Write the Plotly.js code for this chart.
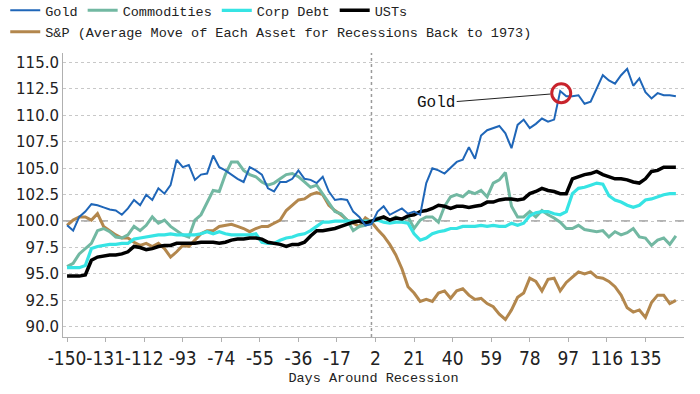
<!DOCTYPE html>
<html>
<head>
<meta charset="utf-8">
<script src="https://cdn.plot.ly/plotly-3.0.1.min.js"></script>
<style>html,body{margin:0;padding:0;background:#fff;}#chart{width:700px;height:394px;}</style>
</head>
<body>
<div id="chart"></div>
<script>
// Days around recession (x axis)
const days = [-150,-147,-144,-141,-138,-135,-132,-129,-126,-123,-120,-117,-114,-111,-108,-105,-102,-99,-96,-93,-90,-87,-84,-81,-78,-75,-72,
  -69,-66,-63,-60,-57,-54,-51,-48,-45,-42,-39,-36,-33,-30,-27,-24,-21,-18,-15,-12,-9,-6,-3,0,
  3,6,9,12,15,18,21,24,27,30,33,36,39,42,45,48,51,54,57,60,63,66,69,72,75,78,81,
  84,87,90,93,96,99,102,105,108,111,114,117,120,123,126,129,132,135,138,141,144,147,150];

const gold = [99.6,99.1,100.4,100.9,101.6,101.5,101.3,101.1,101.0,100.6,101.2,102.0,101.5,102.5,102.0,103.1,102.6,103.4,105.8,105.1,105.3,103.9,104.4,104.5,106.2,105.1,104.8,
  104.4,104.0,103.7,105.1,104.8,104.4,103.1,102.8,103.7,103.7,104.0,104.8,104.0,103.9,103.6,104.2,102.8,102.0,102.1,102.0,100.9,100.4,99.6,99.7,
  100.9,101.4,100.6,100.9,101.2,100.7,100.9,100.6,103.6,105.0,104.8,104.5,105.1,105.6,105.8,107.0,105.9,108.1,108.6,108.8,109.0,108.3,106.9,109.1,109.6,108.8,109.2,
  109.7,109.4,109.6,112.3,111.8,111.8,111.9,111.1,111.3,112.6,113.8,113.3,113.0,113.8,114.4,112.8,113.5,112.2,111.6,112.1,111.9,111.9,111.8];

const commodities = [95.7,96.0,96.9,97.4,97.9,99.1,99.3,99.0,98.5,98.4,98.7,99.5,99.1,99.6,100.4,99.8,100.1,99.5,99.1,98.7,98.5,100.1,100.6,101.7,102.9,102.8,104.4,
  105.6,105.6,104.8,104.4,104.2,103.7,103.4,103.6,104.0,104.4,104.5,104.2,103.7,103.2,103.4,102.6,101.7,100.9,100.7,100.1,99.1,99.5,99.6,99.9,
  100.3,100.3,100.1,100.4,100.1,100.4,99.3,100.1,100.4,100.4,99.9,101.4,102.3,102.5,102.3,102.8,102.6,102.9,102.3,103.6,103.9,104.6,101.4,100.4,100.4,100.9,100.4,
  101.0,100.6,100.3,99.9,99.3,99.3,99.6,99.2,99.1,99.0,99.1,98.5,99.0,98.7,98.9,99.3,98.5,98.4,97.7,98.2,98.4,97.8,98.6];

const corpDebt = [95.6,95.6,95.6,95.8,97.4,97.6,97.7,97.8,97.8,97.9,97.9,98.3,98.4,98.5,98.6,98.7,98.7,98.8,98.7,98.7,98.7,98.7,98.8,99.0,98.8,99.0,98.8,
  98.7,98.7,98.7,98.7,98.8,98.0,97.9,97.9,98.2,98.4,98.5,98.7,98.8,99.1,99.5,99.9,99.9,100.0,100.0,100.0,100.0,100.0,100.0,100.0,
  100.1,99.9,99.8,99.9,99.9,99.8,98.8,98.2,98.4,98.8,99.0,99.1,99.3,99.3,99.5,99.5,99.5,99.6,99.5,99.6,99.5,99.5,99.8,99.6,99.8,100.5,100.8,
  100.9,100.9,100.7,100.6,100.9,102.6,103.1,103.2,103.4,103.6,103.5,102.4,102.0,101.8,101.5,101.3,101.5,102.0,102.1,102.3,102.5,102.6,102.6];

const usts = [94.8,94.8,94.8,94.9,96.3,96.6,96.7,96.8,96.8,96.9,97.1,97.6,97.5,97.3,97.4,97.6,97.7,97.7,97.9,97.9,97.9,97.9,98.0,98.0,98.0,97.9,98.0,
  98.2,98.3,98.3,98.4,98.4,98.3,98.0,97.9,97.8,97.6,97.8,97.8,98.0,98.6,99.1,99.1,99.2,99.3,99.5,99.7,99.9,100.0,99.8,100.0,
  100.2,100.4,100.1,100.3,100.2,100.5,100.6,100.9,101.0,101.2,101.5,101.4,101.2,101.4,101.4,101.3,101.4,101.5,101.8,101.8,102.0,102.1,102.1,102.0,102.1,102.6,102.8,
  103.1,102.9,102.8,102.6,102.6,104.0,104.2,104.4,104.5,104.7,104.4,104.2,104.0,104.0,103.9,103.7,103.6,104.0,104.7,104.8,105.1,105.1,105.1];

const sp = [99.6,100.1,100.4,100.4,100.1,100.7,99.5,99.1,98.7,98.4,98.4,98.0,97.7,97.9,97.6,97.9,97.4,96.6,97.1,97.7,97.6,98.2,98.8,99.1,99.1,99.5,99.6,
  99.7,99.5,99.3,99.0,99.3,99.5,99.5,99.8,100.1,101.0,101.5,102.0,102.1,102.5,102.7,102.5,101.5,101.0,100.6,100.1,99.8,99.5,100.3,99.9,
  99.2,98.6,97.8,96.8,95.5,93.8,93.2,92.4,92.6,92.4,93.2,93.4,92.7,93.4,93.6,93.0,92.6,92.7,92.2,91.9,91.2,90.7,91.6,92.8,93.2,94.6,94.3,
  93.4,94.5,94.6,93.4,94.2,94.7,95.2,95.0,95.2,94.7,94.6,94.3,93.8,93.0,91.8,91.4,91.6,90.9,92.3,93.0,93.0,92.2,92.5];

const xTicks = [-150,-131,-112,-93,-74,-55,-36,-17,2,21,40,59,78,97,116,135];
const seriesNames = ["Gold","Commodities","Corp Debt","USTs","S&P (Average Move of Each Asset for Recessions Back to 1973)"];
const goldCallout = {day: 93.5, value: 112.1, label: "Gold"};

const traces = [
  {x: days, y: sp, name: seriesNames[4], legend: "legend2", line: {color: "#b3874d", width: 3}},
  {x: days, y: commodities, name: seriesNames[1], legendrank: 2, line: {color: "#72b8a2", width: 3}},
  {x: days, y: corpDebt, name: seriesNames[2], legendrank: 3, line: {color: "#36e4e4", width: 3.2}},
  {x: days, y: usts, name: seriesNames[3], legendrank: 4, line: {color: "#000000", width: 3.5}},
  {x: days, y: gold, name: seriesNames[0], legendrank: 1, line: {color: "#1f66b8", width: 2}}
].map(t => Object.assign({type: "scatter", mode: "lines", hoverinfo: "skip"}, t));

const monoFont = "Liberation Mono, DejaVu Sans Mono, monospace";
const legendCommon = {
  orientation: "h", xanchor: "left", yanchor: "top",
  font: {family: monoFont, size: 13.5, color: "#222"},
  itemwidth: 30, tracegroupgap: 0, bgcolor: "rgba(0,0,0,0)", traceorder: "normal"
};

const layout = {
  width: 700, height: 394,
  margin: {l: 63, r: 16, t: 53, b: 57, autoexpand: false},
  paper_bgcolor: "#fff", plot_bgcolor: "#fff",
  showlegend: true,
  legend: Object.assign({x: -0.093, y: 1.204}, legendCommon),
  legend2: Object.assign({x: -0.093, y: 1.129}, legendCommon),
  xaxis: {
    range: [-152, 154], tickvals: xTicks, ticktext: xTicks.map(String), tickangle: 0,
    showgrid: false, zeroline: false,
    showline: true, linecolor: "#b0b0b0", linewidth: 1,
    ticks: "outside", ticklen: 4, tickcolor: "#b0b0b0",
    tickfont: {family: "Liberation Sans Narrow, DejaVu Sans Condensed, sans-serif", size: 19, color: "#222"},
    title: {text: "Days Around Recession", font: {family: monoFont, size: 13.5, color: "#222"}, standoff: 4},
    automargin: false
  },
  yaxis: {
    range: [89.04, 115.9], tick0: 90, dtick: 2.5, tickformat: ".1f",
    showgrid: true, gridcolor: "#c8c8c8", griddash: "dot", gridwidth: 1,
    zeroline: false, showline: true, linecolor: "#b0b0b0", linewidth: 1,
    ticks: "", tickfont: {family: "DejaVu Sans, sans-serif", size: 15, color: "#222"},
    automargin: false
  },
  shapes: [
    {type: "line", xref: "paper", x0: 0, x1: 1, yref: "y", y0: 100, y1: 100, line: {color: "#9a9a9a", width: 1.5, dash: "dash"}, layer: "below"},
    {type: "line", xref: "x", x0: 0, x1: 0, yref: "paper", y0: 0, y1: 1, line: {color: "#9a9a9a", width: 1.5, dash: "dot"}, layer: "below"},
    {type: "circle", xref: "x", yref: "y", xsizemode: "pixel", ysizemode: "pixel",
     xanchor: goldCallout.day, yanchor: goldCallout.value, x0: -9.5, x1: 9.5, y0: -9.5, y1: 9.5,
     line: {color: "#c8232c", width: 3}, fillcolor: "rgba(0,0,0,0)"}
  ],
  annotations: [
    {x: goldCallout.day, y: goldCallout.value, xref: "x", yref: "y", text: goldCallout.label,
     showarrow: true, arrowhead: 0, arrowwidth: 1, arrowcolor: "#222", ax: -125, ay: 10, standoff: 11,
     font: {family: monoFont, size: 16, color: "#111"}}
  ]
};

Plotly.newPlot("chart", traces, layout, {displayModeBar: false, staticPlot: true});
</script>
</body>
</html>
